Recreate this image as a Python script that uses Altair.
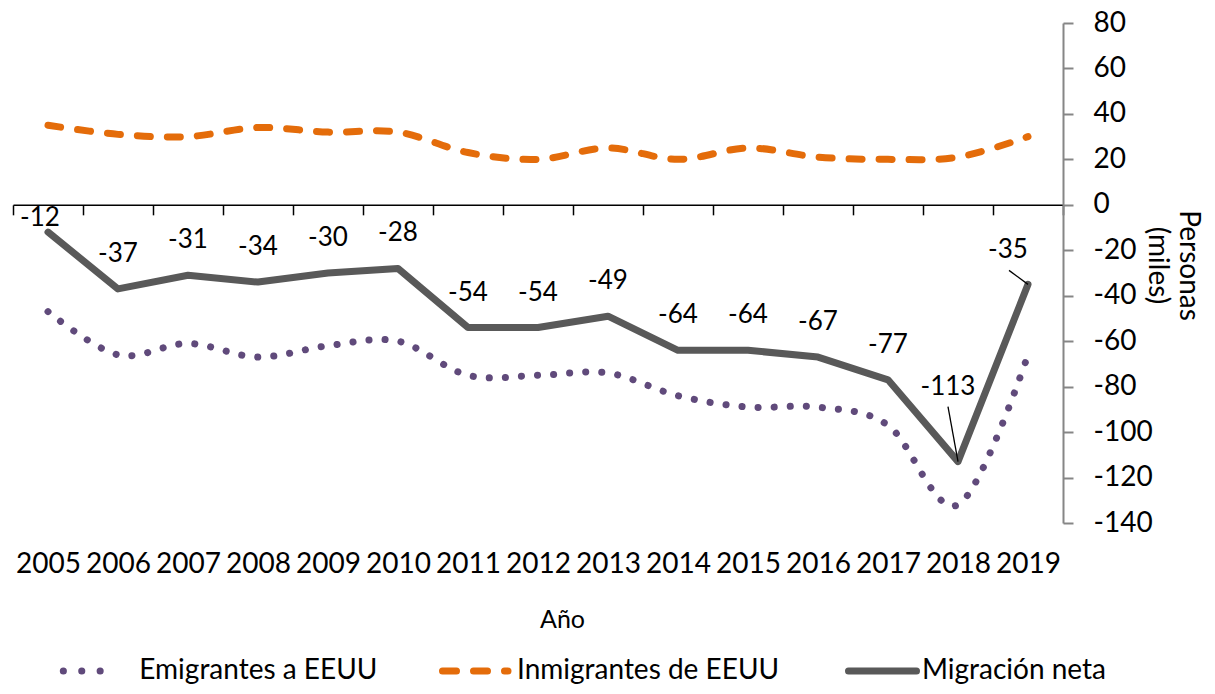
import altair as alt
import pandas as pd

# ---------------- data ----------------
years = [2005, 2006, 2007, 2008, 2009, 2010, 2011, 2012, 2013, 2014, 2015, 2016, 2017, 2018, 2019]
emigrantes = [-47, -66, -61, -67, -62, -60, -75, -75, -74, -84, -89, -89, -97, -132, -66]
inmigrantes = [35, 31, 30, 34, 32, 32, 23, 20, 25, 20, 25, 21, 20, 21, 30]
neta = [-12, -37, -31, -34, -30, -28, -54, -54, -49, -64, -64, -67, -77, -113, -35]
series_names = ["Emigrantes a EEUU", "Inmigrantes de EEUU", "Migración neta"]
y_ticks = [-140, -120, -100, -80, -60, -40, -20, 0, 20, 40, 60, 80]
callout_years = ["2005", "2018", "2019"]

df = pd.DataFrame({
    "year": [str(y) for y in years],
    "emig": emigrantes,
    "imm": inmigrantes,
    "net": neta,
})
df["label"] = df["net"].astype(str)

# ---------------- style ----------------
FONT = "Lato"
PURPLE = "#604A7B"
ORANGE = "#E46C0A"
GRAY = "#595959"
W, H = 1050, 500
Y_MIN, Y_MAX = -140, 80
zero_offset = -(H * (0 - Y_MIN) / (Y_MAX - Y_MIN))

x_axis = alt.Axis(
    title="Año", offset=zero_offset, grid=False,
    domainColor="black", domainWidth=1.5,
    ticks=True, tickColor="black", tickWidth=1.5, tickSize=10, tickBand="extent",
    labelAngle=0, labelFont=FONT, labelFontSize=28, labelColor="black",
    labelPadding=350, labelBaseline="middle", labelOverlap=False,
    titleFont=FONT, titleFontSize=25, titleFontWeight="normal", titleColor="black",
    titleX=549, titleY=415, titleBaseline="middle", titleAlign="center",
)
y_axis = alt.Axis(
    orient="right", values=y_ticks, grid=False,
    domainColor="#868686", domainWidth=2,
    tickColor="#868686", tickWidth=2, tickSize=10,
    labelFont=FONT, labelFontSize=28, labelColor="black", labelPadding=20,
    labelExpr="datum.value + ''",
    title=["Personas", "(miles)"], titleAngle=90, titleFont=FONT, titleFontSize=28,
    titleFontWeight="normal", titleColor="black", titleLineHeight=31,
    titleX=124, titleY=242, titleBaseline="middle", titleAlign="center",
)
y_scale = alt.Scale(domain=[Y_MIN, Y_MAX], nice=False, zero=False)
x_enc = alt.X("year:O", scale=alt.Scale(type="band", paddingInner=0, paddingOuter=0),
              bandPosition=0.5, axis=x_axis)


def yenc(field):
    return alt.Y(f"{field}:Q", scale=y_scale, axis=y_axis)


base = alt.Chart(df)

emig_line = base.mark_line(interpolate="cardinal", color=PURPLE, strokeWidth=7,
                           strokeDash=[0.1, 16], strokeCap="round").encode(x=x_enc, y=yenc("emig"))
imm_line = base.mark_line(interpolate="cardinal", color=ORANGE, strokeWidth=7,
                          strokeDash=[13, 17], strokeCap="round").encode(x=x_enc, y=yenc("imm"))
net_line = base.mark_line(color=GRAY, strokeWidth=7, strokeCap="round",
                          strokeJoin="round").encode(x=x_enc, y=yenc("net"))

text_style = dict(font=FONT, fontSize=26, color="black", baseline="middle", align="center")
labels_main = base.transform_filter(
    f"indexof({callout_years}, datum.year) < 0"
).mark_text(dy=-35, **text_style).encode(x=x_enc, y=yenc("net"), text="label:N")

label_offsets = {"2005": (-8, -14), "2018": (-10, -75), "2019": (-20, -34)}
label_layers = []
for yr in callout_years:
    dx, dy = label_offsets[yr]
    label_layers.append(
        base.transform_filter(f"datum.year == '{yr}'")
        .mark_text(dx=dx, dy=dy, **text_style)
        .encode(x=x_enc, y=yenc("net"), text="label:N")
    )

leader_offsets = {"2018": (-10, -55), "2019": (-19, -14)}
leader_layers = []
for yr, (ox, oy) in leader_offsets.items():
    leader_layers.append(
        base.transform_filter(f"datum.year == '{yr}'")
        .mark_rule(color="black", strokeWidth=1.3, x2Offset=ox, y2Offset=oy)
        .encode(x=x_enc, x2=alt.X2("year", bandPosition=0.5), y=yenc("net"), y2=alt.Y2("net"))
    )

# ---------------- legend (bottom) ----------------
LEG_Y = 648
legend_specs = [
    (series_names[0], PURPLE, [0.1, 18.3], 50.3, 105.3, 126.3),
    (series_names[1], ORANGE, [14, 17], 429.5, 495, 504),
    (series_names[2], GRAY, [1, 0], 835.5, 903.5, 909),
]
legend_layers = []
for name, col, dash, x0, x1, tx in legend_specs:
    ldf = pd.DataFrame({"name": [name]})
    legend_layers.append(
        alt.Chart(ldf).mark_rule(color=col, strokeWidth=7, strokeDash=dash, strokeCap="round")
        .encode(x=alt.value(x0), x2=alt.value(x1), y=alt.value(LEG_Y))
    )
    legend_layers.append(
        alt.Chart(ldf).mark_text(font=FONT, fontSize=28, color="black", align="left", baseline="middle")
        .encode(x=alt.value(tx), y=alt.value(LEG_Y), text="name:N")
    )

chart = alt.layer(
    emig_line, imm_line, net_line, labels_main, *label_layers, *leader_layers, *legend_layers
).properties(
    width=W, height=H,
    padding={"left": 5, "top": 15, "right": 144, "bottom": 163},
    autosize=alt.AutoSizeParams(type="none"),
).configure(font=FONT, view=alt.ViewConfig(stroke=None))

chart.save("out.html", embed_options={"renderer": "svg", "actions": False})
